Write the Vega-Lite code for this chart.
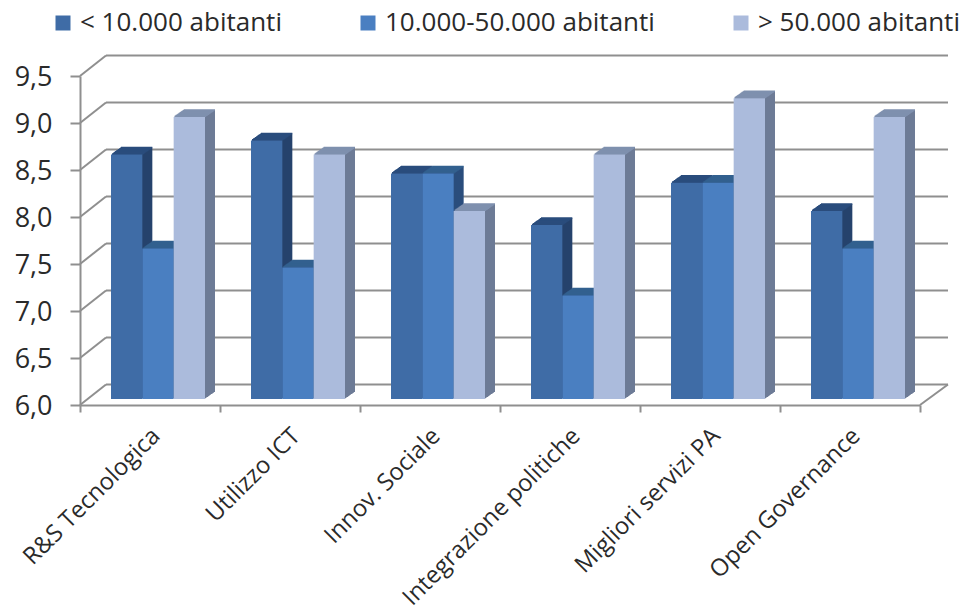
{
"$schema":"https://vega.github.io/schema/vega-lite/v6.json",
"width":840,"height":329,
"autosize":{"type":"none"},
"padding":{"left":80,"top":76,"right":48,"bottom":206},
"background":"#ffffff",
"config":{"view":{"stroke":null},"font":"Open Sans"},
"datasets":{
"levels":[{"level":6},{"level":6.5},{"level":7},{"level":7.5},{"level":8},{"level":8.5},{"level":9},{"level":9.5}],
"scores":[
{"area":"R&S Tecnologica","size":"< 10.000 abitanti","score":8.6},
{"area":"R&S Tecnologica","size":"10.000-50.000 abitanti","score":7.6},
{"area":"R&S Tecnologica","size":"> 50.000 abitanti","score":9.0},
{"area":"Utilizzo ICT","size":"< 10.000 abitanti","score":8.75},
{"area":"Utilizzo ICT","size":"10.000-50.000 abitanti","score":7.4},
{"area":"Utilizzo ICT","size":"> 50.000 abitanti","score":8.6},
{"area":"Innov. Sociale","size":"< 10.000 abitanti","score":8.4},
{"area":"Innov. Sociale","size":"10.000-50.000 abitanti","score":8.4},
{"area":"Innov. Sociale","size":"> 50.000 abitanti","score":8.0},
{"area":"Integrazione politiche","size":"< 10.000 abitanti","score":7.85},
{"area":"Integrazione politiche","size":"10.000-50.000 abitanti","score":7.1},
{"area":"Integrazione politiche","size":"> 50.000 abitanti","score":8.6},
{"area":"Migliori servizi PA","size":"< 10.000 abitanti","score":8.3},
{"area":"Migliori servizi PA","size":"10.000-50.000 abitanti","score":8.3},
{"area":"Migliori servizi PA","size":"> 50.000 abitanti","score":9.2},
{"area":"Open Governance","size":"< 10.000 abitanti","score":8.0},
{"area":"Open Governance","size":"10.000-50.000 abitanti","score":7.6},
{"area":"Open Governance","size":"> 50.000 abitanti","score":9.0}
]},
"layer":[
{"data":{"name":"levels"},
 "mark":{"type":"rule","color":"#8f8f8f","strokeWidth":2,"xOffset":26,"x2Offset":98,"yOffset":-20.5,"y2Offset":-20.5},
 "encoding":{
  "x":{"datum":"R&S Tecnologica","bandPosition":0,"type":"nominal","title":null,"scale":{"domain":["R&S Tecnologica","Utilizzo ICT","Innov. Sociale","Integrazione politiche","Migliori servizi PA","Open Governance"],"paddingInner":0,"paddingOuter":0}},
  "x2":{"datum":"Open Governance"},
  "y":{"field":"level","type":"quantitative","title":null,"scale":{"domain":[6,9.5],"nice":false}},
  "y2":{"field":"level"}}},
{"data":{"name":"levels"},
 "mark":{"type":"rule","color":"#8f8f8f","strokeWidth":2,"xOffset":0,"x2Offset":-44,"yOffset":0,"y2Offset":-20.5},
 "encoding":{
  "x":{"datum":"R&S Tecnologica","bandPosition":0,"type":"nominal","title":null},
  "x2":{"datum":"R&S Tecnologica"},
  "y":{"field":"level","type":"quantitative","title":null},
  "y2":{"field":"level"}}},
{"data":{"values":[{"level":6}]},
 "mark":{"type":"rule","color":"#8f8f8f","strokeWidth":2,"xOffset":0,"x2Offset":98,"yOffset":0,"y2Offset":-20.5},
 "encoding":{
  "x":{"datum":"Open Governance","bandPosition":1,"type":"nominal","title":null},
  "x2":{"datum":"Open Governance"},
  "y":{"field":"level","type":"quantitative","title":null},
  "y2":{"field":"level"}}},
{"data":{"name":"scores"},
 "resolve":{"scale":{"xOffset":"independent"}},
 "encoding":{
  "x":{"field":"area","type":"nominal","sort":null,"title":null,
   "axis":{"tickBand":"extent","tickSize":7,"tickWidth":2,"tickColor":"#8f8f8f","domainColor":"#8f8f8f","domainWidth":2,"labelAngle":-45,"labelAlign":"right","labelBaseline":"middle","labelFont":"Open Sans","labelFontSize":23.8,"labelColor":"#2a2a2a","labelLimit":400,"labelOverlap":false,"labelPadding":20,"labelOffset":6,"grid":false}},
  "y":{"field":"score","type":"quantitative","title":null,
   "axis":{"values":[6,6.5,7,7.5,8,8.5,9,9.5],"labelExpr":"replace(format(datum.value,'.1f'),'.',',')","tickSize":10,"tickWidth":2,"tickColor":"#8f8f8f","domainColor":"#8f8f8f","domainWidth":2,"labelFont":"Open Sans","labelFontSize":27,"labelColor":"#2a2a2a","labelPadding":18,"labelOffset":1,"grid":false}}
 },
 "layer":[
 {"mark":{"type":"bar","yOffset":-13,"y2Offset":-13},"encoding":{"y2":{"datum":6},"xOffset":{"field":"size","sort":null,"scale":{"range":[41,135]}},"fill":{"field":"size","sort":null,"scale":{"domain":["> 50.000 abitanti","10.000-50.000 abitanti","< 10.000 abitanti"],"range":["#6d7b96","#2b4d7c","#26436d"]},"legend":null}}},
 {"mark":{"type":"bar","fillOpacity":0,"strokeWidth":1.5,"yOffset":-13,"y2Offset":-13},"encoding":{"y2":{"field":"score"},"xOffset":{"field":"size","sort":null,"scale":{"range":[41,135]}},"stroke":{"field":"size","sort":null,"scale":{"domain":["10.000-50.000 abitanti","< 10.000 abitanti","> 50.000 abitanti"],"range":["#33608f","#2a4c7c","#7f90ae"]},"legend":null}}},
 {"mark":{"type":"bar","yOffset":-12.3,"y2Offset":-12.3},"encoding":{"y2":{"datum":6},"xOffset":{"field":"size","sort":null,"scale":{"range":[40,134]}},"fill":{"field":"size","sort":null,"legend":null}}},
 {"mark":{"type":"bar","fillOpacity":0,"strokeWidth":1.5,"yOffset":-12.3,"y2Offset":-12.3},"encoding":{"y2":{"field":"score"},"xOffset":{"field":"size","sort":null,"scale":{"range":[40,134]}},"stroke":{"field":"size","sort":null,"legend":null}}},
 {"mark":{"type":"bar","yOffset":-11.6,"y2Offset":-11.6},"encoding":{"y2":{"datum":6},"xOffset":{"field":"size","sort":null,"scale":{"range":[39,133]}},"fill":{"field":"size","sort":null,"legend":null}}},
 {"mark":{"type":"bar","fillOpacity":0,"strokeWidth":1.5,"yOffset":-11.6,"y2Offset":-11.6},"encoding":{"y2":{"field":"score"},"xOffset":{"field":"size","sort":null,"scale":{"range":[39,133]}},"stroke":{"field":"size","sort":null,"legend":null}}},
 {"mark":{"type":"bar","yOffset":-10.9,"y2Offset":-10.9},"encoding":{"y2":{"datum":6},"xOffset":{"field":"size","sort":null,"scale":{"range":[38,132]}},"fill":{"field":"size","sort":null,"legend":null}}},
 {"mark":{"type":"bar","fillOpacity":0,"strokeWidth":1.5,"yOffset":-10.9,"y2Offset":-10.9},"encoding":{"y2":{"field":"score"},"xOffset":{"field":"size","sort":null,"scale":{"range":[38,132]}},"stroke":{"field":"size","sort":null,"legend":null}}},
 {"mark":{"type":"bar","yOffset":-10.2,"y2Offset":-10.2},"encoding":{"y2":{"datum":6},"xOffset":{"field":"size","sort":null,"scale":{"range":[37,131]}},"fill":{"field":"size","sort":null,"legend":null}}},
 {"mark":{"type":"bar","fillOpacity":0,"strokeWidth":1.5,"yOffset":-10.2,"y2Offset":-10.2},"encoding":{"y2":{"field":"score"},"xOffset":{"field":"size","sort":null,"scale":{"range":[37,131]}},"stroke":{"field":"size","sort":null,"legend":null}}},
 {"mark":{"type":"bar","yOffset":-9.5,"y2Offset":-9.5},"encoding":{"y2":{"datum":6},"xOffset":{"field":"size","sort":null,"scale":{"range":[36,130]}},"fill":{"field":"size","sort":null,"legend":null}}},
 {"mark":{"type":"bar","fillOpacity":0,"strokeWidth":1.5,"yOffset":-9.5,"y2Offset":-9.5},"encoding":{"y2":{"field":"score"},"xOffset":{"field":"size","sort":null,"scale":{"range":[36,130]}},"stroke":{"field":"size","sort":null,"legend":null}}},
 {"mark":{"type":"bar","yOffset":-8.8,"y2Offset":-8.8},"encoding":{"y2":{"datum":6},"xOffset":{"field":"size","sort":null,"scale":{"range":[35,129]}},"fill":{"field":"size","sort":null,"legend":null}}},
 {"mark":{"type":"bar","fillOpacity":0,"strokeWidth":1.5,"yOffset":-8.8,"y2Offset":-8.8},"encoding":{"y2":{"field":"score"},"xOffset":{"field":"size","sort":null,"scale":{"range":[35,129]}},"stroke":{"field":"size","sort":null,"legend":null}}},
 {"mark":{"type":"bar","yOffset":-8.1,"y2Offset":-8.1},"encoding":{"y2":{"datum":6},"xOffset":{"field":"size","sort":null,"scale":{"range":[34,128]}},"fill":{"field":"size","sort":null,"legend":null}}},
 {"mark":{"type":"bar","fillOpacity":0,"strokeWidth":1.5,"yOffset":-8.1,"y2Offset":-8.1},"encoding":{"y2":{"field":"score"},"xOffset":{"field":"size","sort":null,"scale":{"range":[34,128]}},"stroke":{"field":"size","sort":null,"legend":null}}},
 {"mark":{"type":"bar","yOffset":-7.4,"y2Offset":-7.4},"encoding":{"y2":{"datum":6},"xOffset":{"field":"size","sort":null,"scale":{"range":[33,127]}},"fill":{"field":"size","sort":null,"legend":null}}},
 {"mark":{"type":"bar","fillOpacity":0,"strokeWidth":1.5,"yOffset":-7.4,"y2Offset":-7.4},"encoding":{"y2":{"field":"score"},"xOffset":{"field":"size","sort":null,"scale":{"range":[33,127]}},"stroke":{"field":"size","sort":null,"legend":null}}},
 {"mark":{"type":"bar","yOffset":-6.7,"y2Offset":-6.7},"encoding":{"y2":{"datum":6},"xOffset":{"field":"size","sort":null,"scale":{"range":[32,126]}},"fill":{"field":"size","sort":null,"legend":null}}},
 {"mark":{"type":"bar","fillOpacity":0,"strokeWidth":1.5,"yOffset":-6.7,"y2Offset":-6.7},"encoding":{"y2":{"field":"score"},"xOffset":{"field":"size","sort":null,"scale":{"range":[32,126]}},"stroke":{"field":"size","sort":null,"legend":null}}},
 {"mark":{"type":"bar","yOffset":-6,"y2Offset":-6},
  "encoding":{"y2":{"datum":6},"xOffset":{"field":"size","sort":null,"scale":{"range":[31,125]}},"color":{"field":"size","sort":null,"title":null,
   "scale":{"domain":["< 10.000 abitanti","10.000-50.000 abitanti","> 50.000 abitanti"],"range":["#3f6ca6","#4a7fc1","#abbbdc"]},
   "legend":{"orient":"none","legendX":-30,"legendY":-66,"direction":"horizontal","columns":3,"symbolType":"square","symbolSize":225,"symbolStrokeWidth":0,"labelFont":"Open Sans","labelFontSize":26,"labelColor":"#2a2a2a","labelLimit":400,"labelOffset":4,"columnPadding":73}}}}
 ]}
]}
